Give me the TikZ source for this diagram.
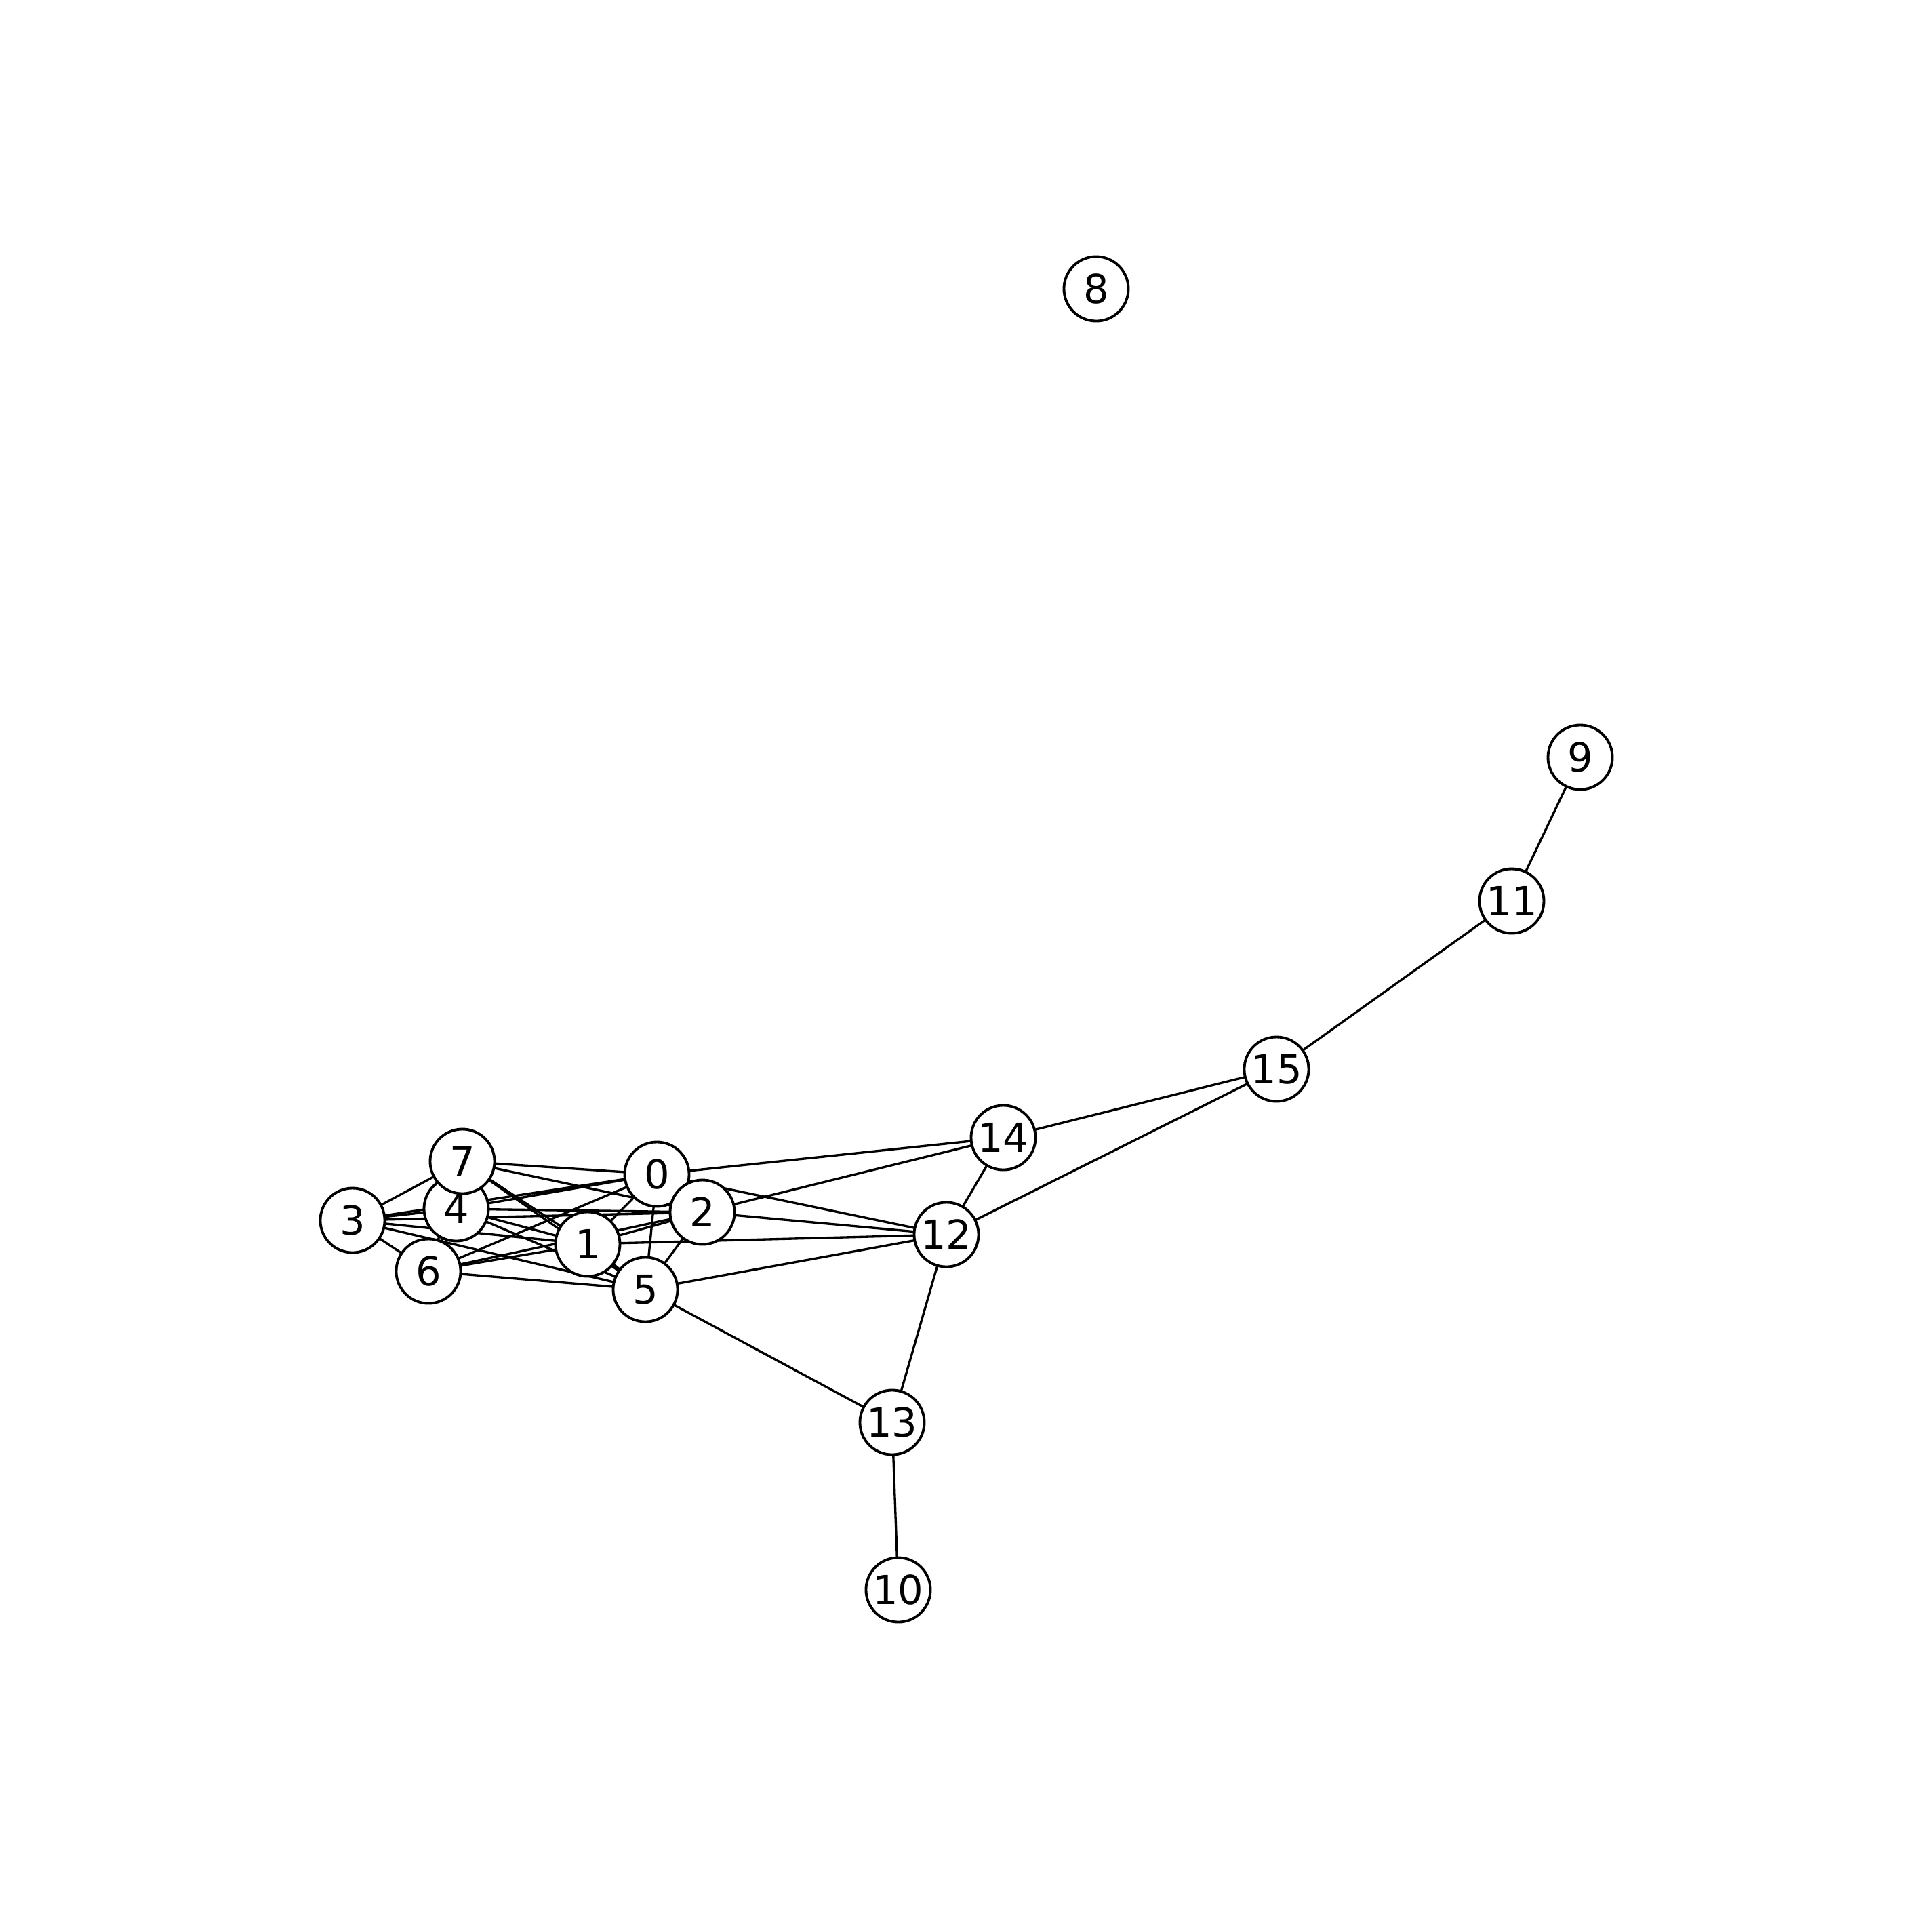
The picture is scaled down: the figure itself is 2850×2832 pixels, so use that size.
\documentclass[tikz,border=0pt]{standalone}
\usepackage{fontspec}
\setmainfont{DejaVu Sans}
\usetikzlibrary{backgrounds}

\begin{document}
\begin{tikzpicture}[
  x=0.01cm, y=-0.01cm,
  vertex/.style={circle, draw=black, line width=1.1pt, fill=white,
                 inner sep=0pt, minimum size=0.95cm,
                 font=\fontsize{16.8}{18}\selectfont},
  edge/.style={draw=black, line width=0.95pt},
]
\useasboundingbox (0,0) rectangle (2850,2832);

%% Dense cluster
\node[vertex] (n0) at (969,1732) {0};
\node[vertex] (n1) at (867,1835) {1};
\node[vertex] (n2) at (1036,1788) {2};
\node[vertex] (n3) at (520,1800) {3};
\node[vertex] (n4) at (673,1783) {4};
\node[vertex] (n5) at (952,1902) {5};
\node[vertex] (n6) at (632,1875) {6};
\node[vertex] (n7) at (682,1713) {7};

%% Outer nodes
\node[vertex] (n8)  at (1617,426)  {8};
\node[vertex] (n9)  at (2331,1117) {9};
\node[vertex] (n10) at (1325,2345) {10};
\node[vertex] (n11) at (2230,1329) {11};
\node[vertex] (n12) at (1396,1821) {12};
\node[vertex] (n13) at (1316,2098) {13};
\node[vertex] (n14) at (1480,1678) {14};
\node[vertex] (n15) at (1883,1577) {15};

\begin{pgfonlayer}{background}
%% Edges inside the cluster
\draw[edge] (n0.center) -- (n1.center) (n0.center) -- (n2.center)
            (n0.center) -- (n3.center) (n0.center) -- (n4.center)
            (n0.center) -- (n5.center) (n0.center) -- (n6.center)
            (n0.center) -- (n7.center);
\draw[edge] (n1.center) -- (n2.center) (n1.center) -- (n3.center)
            (n1.center) -- (n4.center) (n1.center) -- (n5.center)
            (n1.center) -- (n6.center) (n1.center) -- (n7.center);
\draw[edge] (n2.center) -- (n3.center) (n2.center) -- (n4.center)
            (n2.center) -- (n5.center) (n2.center) -- (n6.center)
            (n2.center) -- (n7.center);
\draw[edge] (n3.center) -- (n4.center) (n3.center) -- (n5.center)
            (n3.center) -- (n6.center) (n3.center) -- (n7.center);
\draw[edge] (n4.center) -- (n5.center) (n4.center) -- (n6.center)
            (n4.center) -- (n7.center);
\draw[edge] (n5.center) -- (n6.center) (n5.center) -- (n7.center);
\draw[edge] (n6.center) -- (n7.center);

%% Edges leaving the cluster
\draw[edge] (n0.center) -- (n12.center) (n1.center) -- (n12.center)
            (n2.center) -- (n12.center) (n5.center) -- (n12.center);
\draw[edge] (n0.center) -- (n14.center) (n2.center) -- (n14.center);
\draw[edge] (n5.center) -- (n13.center);

%% Chain to the right
\draw[edge] (n12.center) -- (n14.center) (n12.center) -- (n15.center)
            (n12.center) -- (n13.center) (n14.center) -- (n15.center)
            (n15.center) -- (n11.center) (n11.center) -- (n9.center)
            (n13.center) -- (n10.center);
\end{pgfonlayer}

\end{tikzpicture}
\end{document}
